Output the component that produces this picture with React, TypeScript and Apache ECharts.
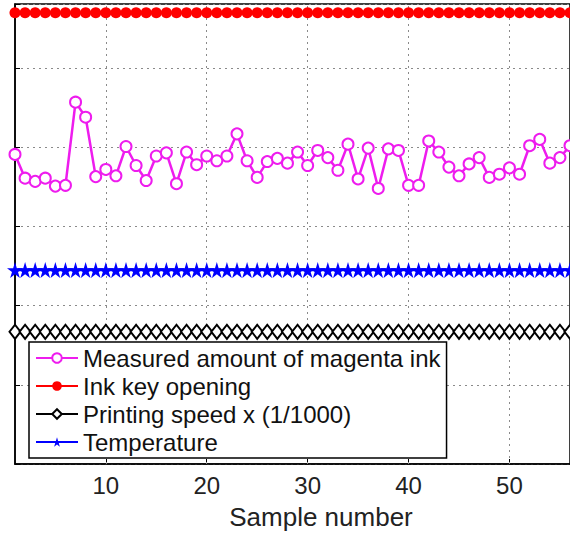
import React, { useEffect, useRef } from "react";
import * as echarts from "echarts";

const sampleNumbers: number[] = [
  1, 2, 3, 4, 5, 6, 7, 8, 9, 10, 11, 12, 13, 14, 15, 16, 17, 18, 19, 20,
  21, 22, 23, 24, 25, 26, 27, 28, 29, 30, 31, 32, 33, 34, 35, 36, 37, 38, 39, 40,
  41, 42, 43, 44, 45, 46, 47, 48, 49, 50, 51, 52, 53, 54, 55, 56,
];

const magentaInk: number[] = [
  3.91, 3.61, 3.57, 3.61, 3.51, 3.52, 4.57, 4.38, 3.63, 3.72,
  3.64, 4.01, 3.77, 3.58, 3.89, 3.93, 3.54, 3.94, 3.78, 3.89,
  3.83, 3.89, 4.17, 3.83, 3.62, 3.82, 3.86, 3.8, 3.94, 3.77,
  3.96, 3.87, 3.71, 4.04, 3.6, 3.99, 3.48, 3.98, 3.96, 3.52,
  3.52, 4.08, 3.94, 3.75, 3.64, 3.79, 3.87, 3.62, 3.66, 3.74,
  3.66, 4.02, 4.1, 3.8, 3.87, 4.02,
];

const inkKeyOpening: number[] = [
  5.7, 5.7, 5.7, 5.7, 5.7, 5.7, 5.7, 5.7, 5.7, 5.7,
  5.7, 5.7, 5.7, 5.7, 5.7, 5.7, 5.7, 5.7, 5.7, 5.7,
  5.7, 5.7, 5.7, 5.7, 5.7, 5.7, 5.7, 5.7, 5.7, 5.7,
  5.7, 5.7, 5.7, 5.7, 5.7, 5.7, 5.7, 5.7, 5.7, 5.7,
  5.7, 5.7, 5.7, 5.7, 5.7, 5.7, 5.7, 5.7, 5.7, 5.7,
  5.7, 5.7, 5.7, 5.7, 5.7, 5.7,
];

const printingSpeed: number[] = [
  1.67, 1.67, 1.67, 1.67, 1.67, 1.67, 1.67, 1.67, 1.67, 1.67,
  1.67, 1.67, 1.67, 1.67, 1.67, 1.67, 1.67, 1.67, 1.67, 1.67,
  1.67, 1.67, 1.67, 1.67, 1.67, 1.67, 1.67, 1.67, 1.67, 1.67,
  1.67, 1.67, 1.67, 1.67, 1.67, 1.67, 1.67, 1.67, 1.67, 1.67,
  1.67, 1.67, 1.67, 1.67, 1.67, 1.67, 1.67, 1.67, 1.67, 1.67,
  1.67, 1.67, 1.67, 1.67, 1.67, 1.67,
];

const temperature: number[] = [
  2.45, 2.45, 2.45, 2.45, 2.45, 2.45, 2.45, 2.45, 2.45, 2.45,
  2.45, 2.45, 2.45, 2.45, 2.45, 2.45, 2.45, 2.45, 2.45, 2.45,
  2.45, 2.45, 2.45, 2.45, 2.45, 2.45, 2.45, 2.45, 2.45, 2.45,
  2.45, 2.45, 2.45, 2.45, 2.45, 2.45, 2.45, 2.45, 2.45, 2.45,
  2.45, 2.45, 2.45, 2.45, 2.45, 2.45, 2.45, 2.45, 2.45, 2.45,
  2.45, 2.45, 2.45, 2.45, 2.45, 2.45,
];

const xTicks: number[] = [10, 20, 30, 40, 50];

const seriesNames: string[] = [
  "Measured amount of magenta ink",
  "Ink key opening",
  "Printing speed x (1/1000)",
  "Temperature",
];

const STAR =
  "path://M50,0 L61,35 L98,35 L68,57 L79,91 L50,70 L21,91 L32,57 L2,35 L39,35 Z";

const pair = (ys: number[]) => sampleNumbers.map((x, i) => [x, ys[i]]);

export default function App() {
  const ref = useRef<HTMLDivElement>(null);

  useEffect(() => {
    if (!ref.current) return;
    const chart = echarts.init(ref.current, undefined, { renderer: "svg" });
    const font = "Liberation Sans, Arial, Helvetica, sans-serif";
    const gridDots = { type: [2, 4], color: "#8a8a8a", width: 1 };
    chart.setOption({
      animation: false,
      backgroundColor: "#ffffff",
      textStyle: { fontFamily: font },
      grid: {
        left: 15,
        top: 4,
        width: 558,
        height: 463,
        show: true,
        borderColor: "#000",
        borderWidth: 1.5,
        backgroundColor: "transparent",
      },
      legend: {
        orient: "vertical",
        left: 29,
        top: 342,
        data: seriesNames,
        backgroundColor: "#ffffff",
        borderColor: "#000",
        borderWidth: 1.5,
        borderRadius: 0,
        padding: [2, 6, 2, 6],
        itemGap: 0,
        itemWidth: 42,
        itemHeight: 12,
        z: 10,
        textStyle: {
          fontFamily: font,
          fontSize: 24,
          lineHeight: 28,
          color: "#111",
        },
      },
      xAxis: {
        type: "value",
        min: 1,
        max: 56,
        name: "Sample number",
        nameLocation: "middle",
        nameGap: 40,
        nameTextStyle: {
          fontFamily: font,
          fontSize: 26,
          color: "#222",
          padding: [0, 0, 0, 57],
        },
        axisLine: { show: true, lineStyle: { color: "#000", width: 1.5 } },
        axisTick: {
          show: true,
          inside: true,
          length: 5,
          customValues: xTicks,
          lineStyle: { color: "#000" },
        },
        axisLabel: {
          show: true,
          customValues: xTicks,
          fontFamily: font,
          fontSize: 24,
          color: "#222",
          margin: 9,
        },
        splitLine: { show: false },
      },
      yAxis: {
        type: "value",
        min: 0,
        max: 5.81,
        interval: 1,
        axisLine: { show: true, lineStyle: { color: "#000", width: 1.5 } },
        axisTick: { show: true, inside: true, length: 5, lineStyle: { color: "#000" } },
        axisLabel: { show: false },
        splitLine: { show: true, lineStyle: gridDots },
      },
      series: [
        {
          name: seriesNames[0],
          type: "line",
          data: pair(magentaInk),
          symbol: "emptyCircle",
          symbolSize: 11,
          z: 5,
          lineStyle: { color: "#ee1cee", width: 2.5 },
          itemStyle: { color: "#ee1cee", borderColor: "#ee1cee", borderWidth: 2.5 },
          markLine: {
            silent: true,
            symbol: "none",
            label: { show: false },
            z: 1,
            lineStyle: gridDots,
            emphasis: { disabled: true },
            data: xTicks.map((v) => ({ xAxis: v })),
          },
        },
        {
          name: seriesNames[1],
          type: "line",
          data: pair(inkKeyOpening),
          symbol: "circle",
          symbolSize: 11,
          z: 4,
          lineStyle: { color: "#ff0000", width: 2 },
          itemStyle: { color: "#ff0000" },
        },
        {
          name: seriesNames[2],
          type: "line",
          data: pair(printingSpeed),
          symbol: "emptyDiamond",
          symbolSize: [11, 14],
          z: 4,
          lineStyle: { color: "#000000", width: 2 },
          itemStyle: { color: "#000000", borderColor: "#000000", borderWidth: 2 },
        },
        {
          name: seriesNames[3],
          type: "line",
          data: pair(temperature),
          symbol: STAR,
          symbolSize: 16,
          z: 4,
          lineStyle: { color: "#0000ff", width: 2.5 },
          itemStyle: { color: "#0000ff" },
        },
      ],
    });
    return () => chart.dispose();
  }, []);

  return (
    <div
      ref={ref}
      style={{ position: "fixed", left: 0, top: 0, width: 570, height: 535 }}
    />
  );
}
